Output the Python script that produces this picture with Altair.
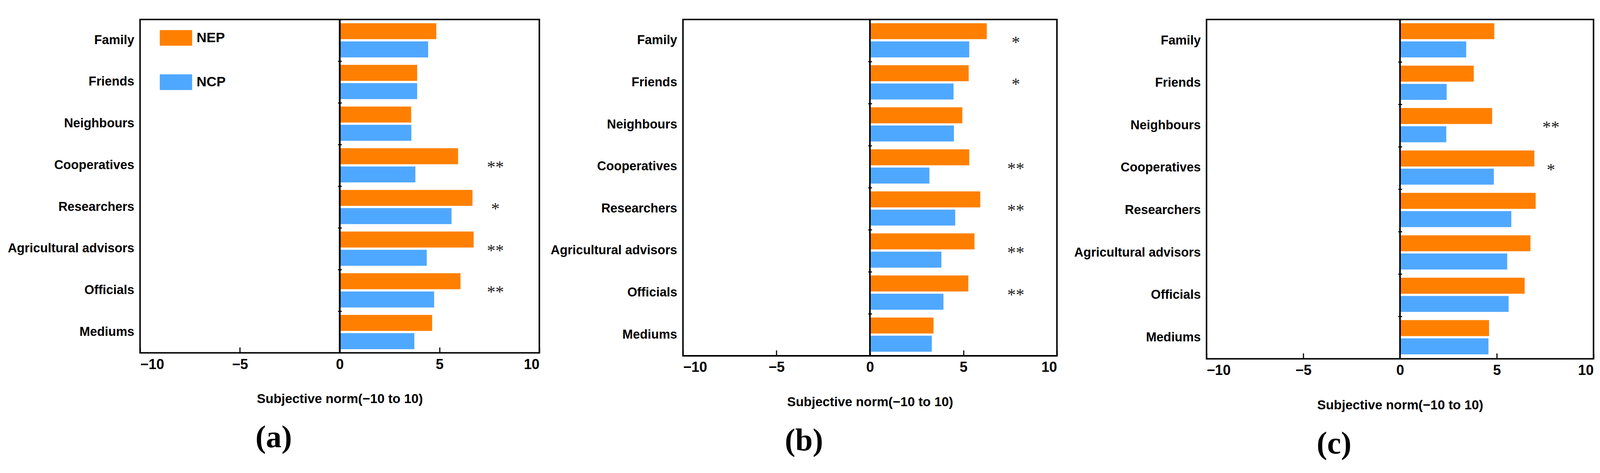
import altair as alt
import pandas as pd

categories = ["Family", "Friends", "Neighbours", "Cooperatives", "Researchers",
              "Agricultural advisors", "Officials", "Mediums"]
series = ["NEP", "NCP"]

a_nep = [4.84, 3.88, 3.58, 5.93, 6.65, 6.71, 6.05, 4.63]
a_ncp = [4.43, 3.88, 3.59, 3.79, 5.60, 4.36, 4.73, 3.74]
b_nep = [6.25, 5.28, 4.94, 5.31, 5.90, 5.59, 5.26, 3.40]
b_ncp = [5.31, 4.47, 4.49, 3.18, 4.56, 3.82, 3.93, 3.31]
c_nep = [4.87, 3.81, 4.76, 6.94, 7.01, 6.74, 6.44, 4.60]
c_ncp = [3.42, 2.41, 2.39, 4.85, 5.75, 5.54, 5.61, 4.57]

a_star_cats = ["Cooperatives", "Researchers", "Agricultural advisors", "Officials"]
a_star_txt = ["**", "*", "**", "**"]
b_star_cats = ["Family", "Friends", "Cooperatives", "Researchers", "Agricultural advisors", "Officials"]
b_star_txt = ["*", "*", "**", "**", "**", "**"]
c_star_cats = ["Neighbours", "Cooperatives"]
c_star_txt = ["**", "*"]

x_ticks = [-10, -5, 0, 5, 10]
x_title = "Subjective norm(\u221210 to 10)"
colors = ["#FF8000", "#4FA8FF"]
SANS = "Liberation Sans"
SERIF = "Liberation Serif"


def panel(nep, ncp, star_cats, star_txt, W, H, label, legx, legy):
    df = pd.DataFrame({
        "category": categories * 2,
        "series": ["NEP"] * len(categories) + ["NCP"] * len(categories),
        "value": nep + ncp,
    })
    ydef = dict(field="category", type="nominal", sort=categories,
                scale=alt.Scale(paddingInner=0, paddingOuter=0))
    bars = alt.Chart(df).mark_bar().encode(
        x=alt.X("value:Q", scale=alt.Scale(domain=[-10, 10], nice=False, zero=False),
                axis=alt.Axis(values=x_ticks, domain=False, grid=False, tickSize=15,
                              offset=-15, tickWidth=3, tickColor="black",
                              labelFontSize=38, labelFont=SANS, labelFontWeight="bold",
                              labelColor="black", labelPadding=13,
                              title=x_title, titleFont=SANS, titleFontSize=35,
                              titleFontWeight="bold", titleColor="black", titlePadding=56)),
        y=alt.Y(**ydef, axis=alt.Axis(orient="left", title=None, domain=False, ticks=False,
                                      labelFontSize=34, labelFont=SANS, labelFontWeight="bold",
                                      labelColor="black", labelPadding=16, labelLimit=0)),
        yOffset=alt.YOffset("series:N", sort=series,
                            scale=alt.Scale(paddingInner=0.1224, paddingOuter=0.204)),
        color=alt.Color("series:N", scale=alt.Scale(domain=series, range=colors),
                        legend=alt.Legend(title=None, orient="none", legendX=legx, legendY=legy,
                                          symbolType="M-1,-0.483H1V0.483H-1Z", symbolSize=7569,
                                          symbolStrokeWidth=0, symbolOpacity=1,
                                          labelFontSize=37, labelFont=SANS, labelFontWeight="bold",
                                          labelColor="black", labelOffset=12, rowPadding=54,
                                          padding=0)),
    )
    zero = alt.Chart(df).mark_rule(color="black", strokeWidth=3.5).encode(x=alt.datum(0))
    ticks = alt.Chart(pd.DataFrame({"category": categories})).mark_point(opacity=0, size=1).encode(
        x=alt.datum(0),
        y=alt.Y(**ydef, axis=alt.Axis(orient="left", title=None, labels=False, domain=False,
                                      ticks=True, bandPosition=0, tickSize=10, tickWidth=3,
                                      tickColor="black", offset=-(W / 2 + 5))),
    )
    sdf = pd.DataFrame({"category": star_cats, "stars": star_txt})
    stars = alt.Chart(sdf).mark_text(font=SERIF, fontSize=46, color="#222222",
                                     baseline="alphabetic", dy=20).encode(
        x=alt.datum(7.8),
        y=alt.Y(**ydef, axis=None),
        text="stars:N",
    )
    return alt.layer(bars, zero, ticks, stars).resolve_axis(y="independent").properties(
        width=W, height=H,
        view=alt.ViewBackground(stroke="black", strokeWidth=4, fill="white"),
        title=alt.TitleParams(text=label, orient="bottom", anchor="middle", frame="bounds",
                              font=SERIF, fontSize=84, fontWeight="bold", color="black",
                              offset=46),
    )


pa = panel(a_nep, a_ncp, a_star_cats, a_star_txt, 1073, 896, "(a)", 53, 6)
pb = panel(b_nep, b_ncp, b_star_cats, b_star_txt, 1005, 904, "(b)", 49, 4)
pc = panel(c_nep, c_ncp, c_star_cats, c_star_txt, 1040, 912, "(c)", 50, 5)

chart = alt.hconcat(alt.hconcat(pa, pb, spacing=23), pc, spacing=39).properties(
    padding={"left": 9, "top": 10, "right": 5, "bottom": 5},
    background="white",
).configure_view(stroke="black", strokeWidth=4)

chart.save("out.html", embed_options={"renderer": "svg", "actions": False})
